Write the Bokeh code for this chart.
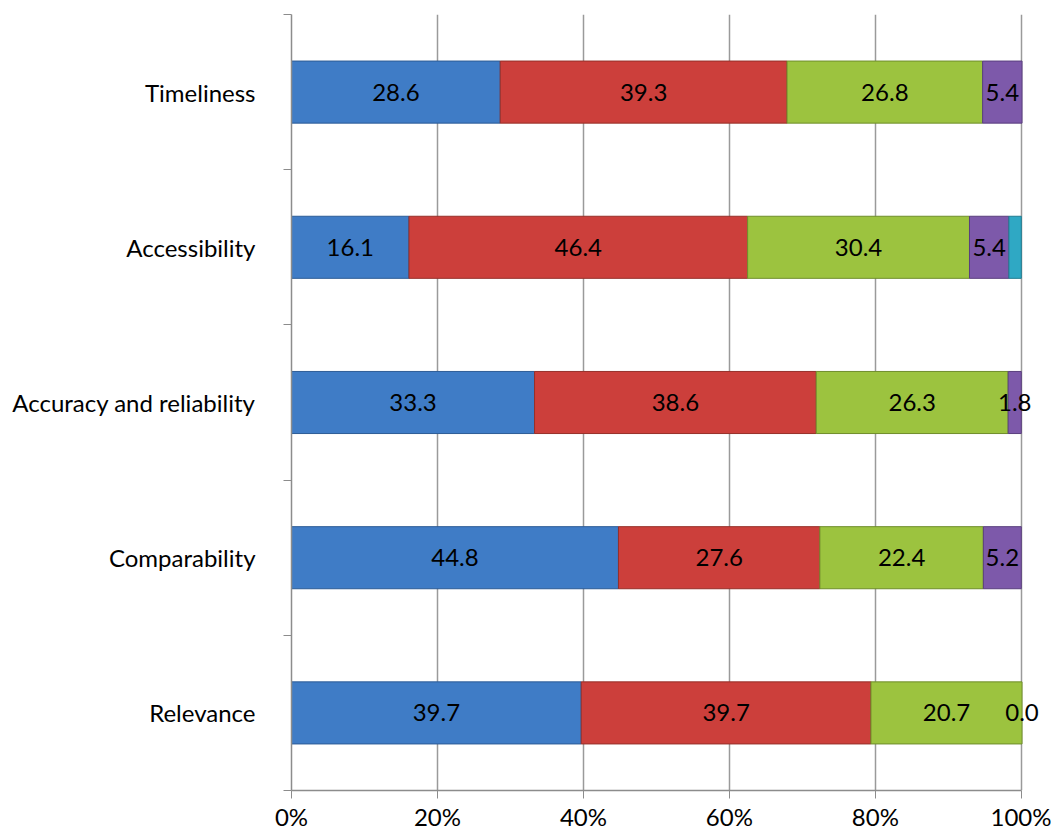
import numpy as np
from bokeh.plotting import figure
from bokeh.models import ColumnDataSource, FixedTicker, Label
from bokeh.embed import file_html
from bokeh.resources import INLINE

categories = ["Relevance", "Comparability", "Accuracy and reliability", "Accessibility", "Timeliness"]
series1 = [39.7, 44.8, 33.3, 16.1, 28.6]
series2 = [39.7, 27.6, 38.6, 46.4, 39.3]
series3 = [20.7, 22.4, 26.3, 30.4, 26.8]
series4 = [0.0, 5.2, 1.8, 5.4, 5.4]
series5 = [0.0, 0.0, 0.0, 1.7, 0.0]
series = [series1, series2, series3, series4, series5]
colors = ["#3F7CC6", "#CC3F3B", "#9CC33F", "#7D59AA", "#2FA8C4"]
outlines = ["#2D5C96", "#963029", "#6F8E2B", "#5A3F7E", "#217C91"]
show_labels = [True, True, True, True, False]
xticks = [0, 20, 40, 60, 80, 100]

FONT = "Lato"
FS = "24px"

n = len(categories)
ycent = np.arange(n) + 0.5

p = figure(width=1051, height=835, x_range=(0, 104), y_range=(0, n),
           output_backend="svg", toolbar_location=None,
           min_border_left=291, min_border_right=1, min_border_top=14, min_border_bottom=45)
p.outline_line_color = None
p.background_fill_color = "white"

vals = np.array(series, dtype=float)
cum = np.cumsum(vals, axis=0)
left = cum - vals
for i in range(len(series)):
    keep = vals[i] > 0
    src = ColumnDataSource(dict(y=ycent[keep], left=left[i][keep], right=cum[i][keep]))
    p.hbar(y="y", left="left", right="right", height=0.4, source=src,
           fill_color=colors[i], line_color=outlines[i], line_width=1)
    if show_labels[i]:
        for j in range(n):
            p.add_layout(Label(x=float((left[i][j] + cum[i][j]) / 2), y=float(ycent[j]),
                               text="%.1f" % vals[i][j], text_align="center",
                               text_baseline="middle", text_font=FONT, text_font_size=FS,
                               text_color="black"))

# grid
p.xgrid.ticker = FixedTicker(ticks=xticks)
p.xgrid.grid_line_color = "#9A9A9A"
p.xgrid.grid_line_width = 1.5
p.ygrid.grid_line_color = None

# x axis
xa = p.xaxis[0]
xa.ticker = FixedTicker(ticks=xticks)
xa.bounds = (0, 100)
xa.major_label_overrides = {t: "%d%%" % t for t in xticks}
xa.axis_line_color = "#8C8C8C"
xa.axis_line_width = 1.5
xa.major_tick_line_color = "#8C8C8C"
xa.major_tick_out = 8
xa.major_tick_in = 0
xa.minor_tick_line_color = None
xa.major_label_text_font = FONT
xa.major_label_text_font_size = FS
xa.major_label_text_color = "black"
xa.major_label_standoff = 3

# y axis
ya = p.yaxis[0]
ya.ticker = FixedTicker(ticks=list(ycent), minor_ticks=list(range(n + 1)))
ya.major_label_overrides = {float(c): categories[i] for i, c in enumerate(ycent)}
ya.major_tick_out = 0
ya.major_tick_in = 0
ya.minor_tick_out = 8
ya.minor_tick_in = 0
ya.minor_tick_line_color = "#8C8C8C"
ya.axis_line_color = "#8C8C8C"
ya.axis_line_width = 1.5
ya.major_label_text_font = FONT
ya.major_label_text_font_size = FS
ya.major_label_text_color = "black"
ya.major_label_standoff = 28

open("out.html", "w").write(file_html(p, INLINE))
